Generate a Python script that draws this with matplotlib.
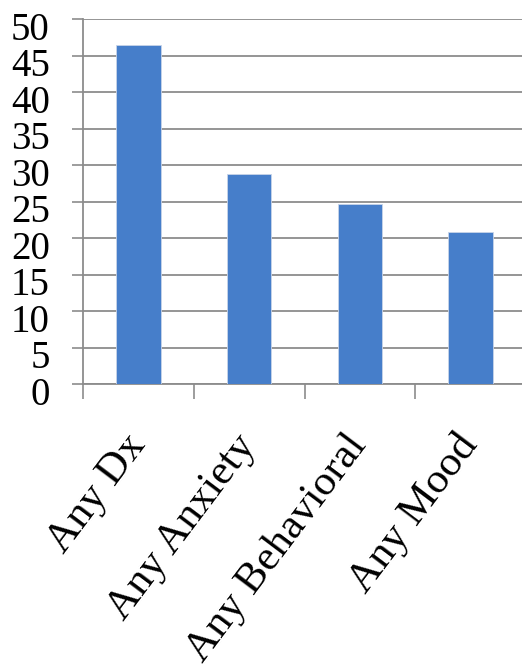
import numpy as np
import matplotlib.pyplot as plt
from matplotlib.transforms import ScaledTranslation

# Prevalence (%) by diagnosis group
categories = ['Any Dx', 'Any Anxiety', 'Any Behavioral', 'Any Mood']
values = [46.4, 28.7, 24.7, 20.8]
y_ticks = list(range(0, 55, 5))

bar_color = '#467ECA'
grid_color = '#8C8C8C'

fig = plt.figure(figsize=(5.22, 6.72), dpi=100)
W, H = 522, 672
ax = fig.add_axes([83 / W, 1 - 384 / H, (526 - 83) / W, (384 - 19) / H])

x = np.arange(len(categories))
ax.bar(x, values, width=0.4, color=bar_color, edgecolor='#C8D4E8', linewidth=0.6, zorder=3)

ax.set_xlim(-0.5, len(categories) - 0.5)
ax.set_ylim(0, 50)
ax.set_yticks(y_ticks)
ax.set_yticklabels([str(v) for v in y_ticks], family='Liberation Serif', fontsize=28)
ax.tick_params(axis='y', length=8, width=1.2, color=grid_color, pad=16)
ax.yaxis.grid(True, color=grid_color, linewidth=1.3, zorder=0)
# nudge the number labels a little below their gridlines
shift = ScaledTranslation(0, -5 / 72, fig.dpi_scale_trans)
for lbl in ax.get_yticklabels():
    lbl.set_transform(lbl.get_transform() + shift)

# category boundaries get the tick marks, labels sit at the centres
ax.set_xticks(np.arange(-0.5, len(categories) - 0.5, 1.0), minor=True)
ax.set_xticks(x)
ax.set_xticklabels([])
ax.tick_params(axis='x', which='minor', length=11, width=1.2, color=grid_color)
ax.tick_params(axis='x', which='major', length=0)

for xi, label in zip(x, categories):
    ax.text(xi + 0.07, -8.4, label, rotation=53, rotation_mode='anchor',
            ha='right', va='baseline', family='Liberation Serif', fontsize=31)

for side in ['top', 'right']:
    ax.spines[side].set_visible(False)
for side in ['left', 'bottom']:
    ax.spines[side].set_color(grid_color)
    ax.spines[side].set_linewidth(1.3)

fig.savefig('out.png', dpi=100)
